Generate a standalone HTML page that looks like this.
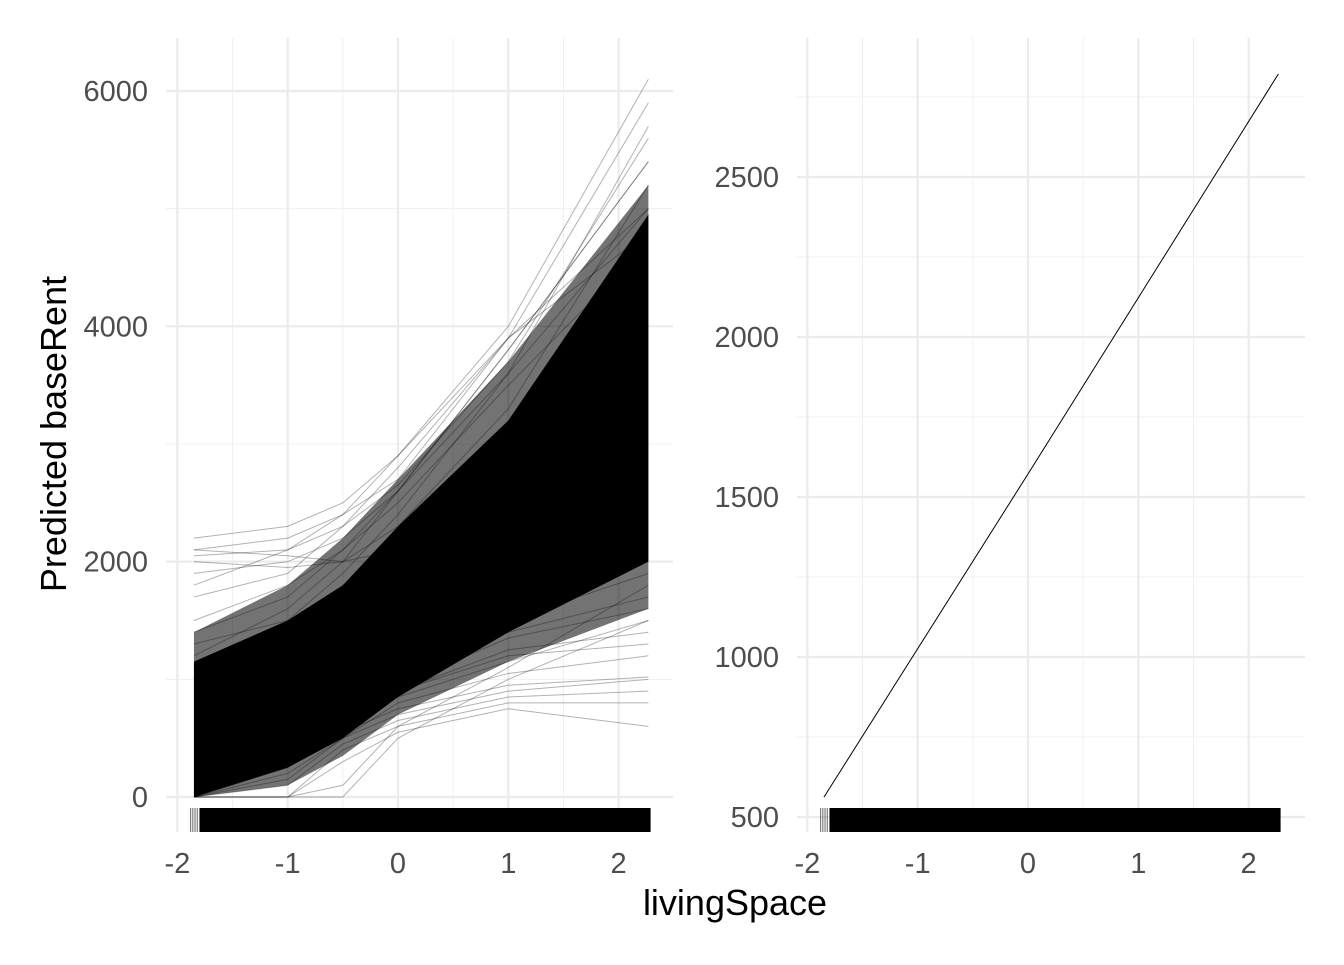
<!DOCTYPE html>
<html><head><meta charset="utf-8"><style>
body{margin:0;background:#fff}
text{font-family:"Liberation Sans",Arial,sans-serif}
</style></head><body>
<svg id="c" width="1344" height="960" xmlns="http://www.w3.org/2000/svg"></svg>
<script>
const xs=[-1.85,-1,-0.5,0,1,2.27];
const bandLower=[0,250,500,850,1400,2000];
const bandUpper=[1150,1500,1800,2300,3200,4950];
const outerLower=[0,100,350,700,1150,1600];
const outerUpper=[1400,1800,2200,2700,3700,5200];
const iceLines=[
[2200,2300,2500,2900,4000,6100],[2100,2200,2400,2700,3900,5900],[2050,2100,2300,2650,3700,5600],
[1900,2000,2200,2600,3800,5400],[1800,2100,2400,2900,3900,5000],[2100,2050,2000,2100,2700,3700],
[2000,1950,2000,2300,3300,5200],[1700,1900,2300,2800,3900,4800],[1500,1800,2100,2600,3600,5000],
[1400,1700,2100,2500,3500,4700],[1300,1500,1900,2400,3600,5700],[1200,1600,2000,2600,3800,5400],
[0,0,300,550,750,600],[0,0,400,600,800,800],[0,100,450,650,850,900],[0,200,500,700,900,1000],
[100,300,550,750,950,1020],[0,150,500,800,1050,1200],[0,250,600,900,1200,1300],[200,400,650,900,1250,1400],
[0,300,600,850,1150,1500],[100,350,650,950,1350,1600],[300,500,750,1000,1400,1700],[0,0,0,500,1000,1500],
[0,0,100,600,1100,1800],[400,600,850,1100,1500,1900]];
const pdpX=[-1.85,0,2.27];
const pdpY=[562,1572,2822];
const leftYTicks=[0,2000,4000,6000];
const rightYTicks=[500,1000,1500,2000,2500];
const xTicks=[-2,-1,0,1,2];

const svg=document.getElementById('c');
const NS='http://www.w3.org/2000/svg';
function el(t,a,p){const e=document.createElementNS(NS,t);for(const k in a)e.setAttribute(k,a[k]);(p||svg).appendChild(e);return e;}
const Lx=v=>398+v*110.3, Ly=v=>797-v*0.11767;
const Rx=v=>1028+v*110.3, Ry=v=>817-(v-500)*0.32;

function panel(name,x0,x1,X,Y,maj,minr,ticks){
  const g=el('g',{});
  
  
  minr.forEach(v=>el('line',{x1:x0,x2:x1,y1:Y(v),y2:Y(v),stroke:'#f0f0f0','stroke-width':1},g));
  [-1.5,-0.5,0.5,1.5].forEach(v=>el('line',{x1:X(v),x2:X(v),y1:38,y2:832,stroke:'#f0f0f0','stroke-width':1},g));
  maj.forEach(v=>el('line',{x1:x0,x2:x1,y1:Y(v),y2:Y(v),stroke:'#ebebeb','stroke-width':2.2},g));
  xTicks.forEach(v=>el('line',{x1:X(v),x2:X(v),y1:38,y2:832,stroke:'#ebebeb','stroke-width':2.2},g));
  ticks.forEach(v=>{const t=el('text',{x:x0-18,y:Y(v)+10,'text-anchor':'end','font-size':29,fill:'#4d4d4d'});t.textContent=v;
    });
  xTicks.forEach(v=>{const t=el('text',{x:X(v),y:873,'text-anchor':'middle','font-size':29,fill:'#4d4d4d'});t.textContent=v;
    });
}
panel('left-panel',166,673,Lx,Ly,leftYTicks,[1000,3000,5000],leftYTicks);
panel('right-panel',797,1305,Rx,Ry,rightYTicks,[750,1250,1750,2250,2750],rightYTicks);

// ICE outer band
let op=xs.map((x,i)=>Lx(x)+','+Ly(outerUpper[i]));
for(let i=xs.length-1;i>=0;i--)op.push(Lx(xs[i])+','+Ly(outerLower[i]));
const ob=el('polygon',{points:op.join(' '),fill:'#000','fill-opacity':0.55});


let pts=xs.map((x,i)=>Lx(x)+','+Ly(bandUpper[i]));
for(let i=xs.length-1;i>=0;i--)pts.push(Lx(xs[i])+','+Ly(bandLower[i]));
const band=el('polygon',{points:pts.join(' '),fill:'#000'});


iceLines.forEach(s=>{
  const p=el('polyline',{points:xs.map((x,i)=>Lx(x)+','+Ly(s[i])).join(' '),fill:'none',stroke:'#000','stroke-opacity':0.3,'stroke-width':1});
  
  
});
const pd=el('polyline',{points:pdpX.map((x,i)=>Rx(x)+','+Ry(pdpY[i])).join(' '),fill:'none',stroke:'#000','stroke-width':1});



// rugs
[[Lx,'left-rug'],[Rx,'right-rug']].forEach(([X,n])=>{
  const r=el('rect',{x:X(-1.8),y:808,width:X(2.29)-X(-1.8),height:24,fill:'#000'});
  
  
  [-1.88,-1.86,-1.84,-1.82].forEach(v=>el('line',{x1:X(v),x2:X(v),y1:808,y2:832,stroke:'#000','stroke-opacity':0.6}));
});

const yt=el('text',{x:0,y:0,transform:'translate(66,434) rotate(-90)','text-anchor':'middle','font-size':36,fill:'#000'});
yt.textContent='Predicted baseRent';


const xt=el('text',{x:735,y:915,'text-anchor':'middle','font-size':36,fill:'#000'});
xt.textContent='livingSpace';


</script>
</body></html>
